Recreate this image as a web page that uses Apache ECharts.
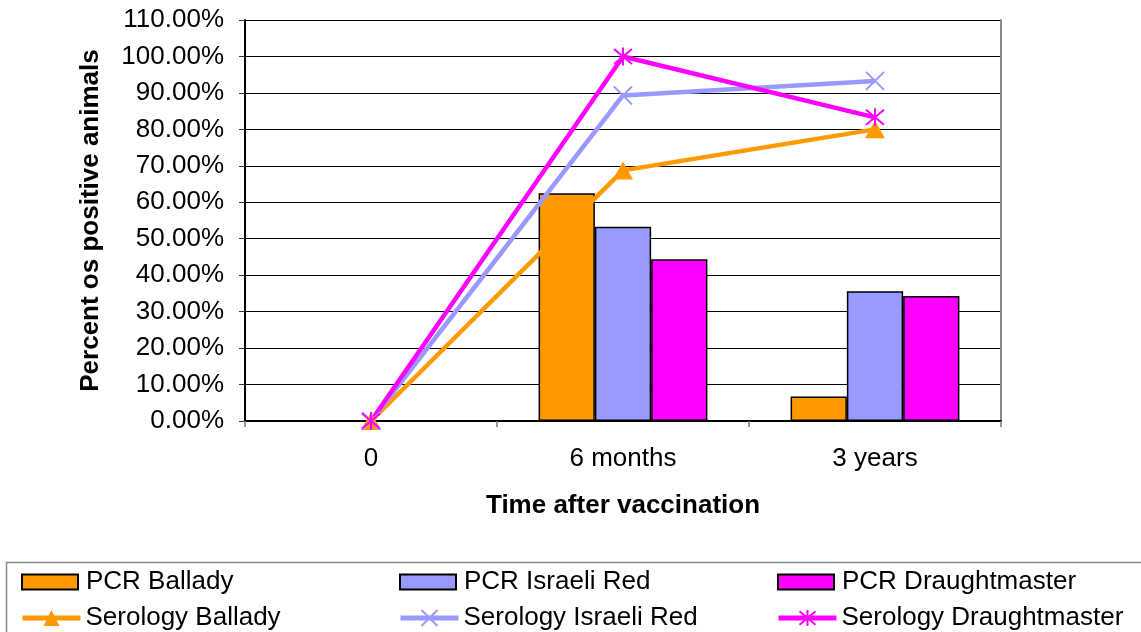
<!DOCTYPE html>
<html>
<head>
<meta charset="utf-8">
<script src="https://cdn.jsdelivr.net/npm/echarts@6/dist/echarts.min.js"></script>
<style>
  html, body { margin: 0; padding: 0; background: #fff; }
  #chart { width: 1141px; height: 632px; }
</style>
</head>
<body>
<div id="chart"></div>
<script>
// Time points after vaccination
const categories = ['0', '6 months', '3 years'];

// PCR results (percent of positive animals)
const pcrBallady = [0, 62.5, 6.7];
const pcrIsraeliRed = [0, 53.3, 35.6];
const pcrDraughtmaster = [0, 44.4, 34.3];

// Serology results (percent of positive animals)
const serBallady = [0, 68.75, 80];
const serIsraeliRed = [0, 89.3, 93.3];
const serDraughtmaster = [0, 100, 83.3];

// Y axis range and step (percent)
const yMin = 0, yMax = 110, yStep = 10;

const ORANGE = '#FF9900', BLUE = '#9999FF', MAGENTA = '#FF00FF';
const FONT = "'Liberation Sans', Arial, sans-serif";

const crossPath = 'path://M0,0L10,10M0,10L10,0';
const starPath = 'path://M0,0L10,10M0,10L10,0M5,-1L5,11';

function barSeries(name, data, color) {
  return {
    name, type: 'bar', data,
    barGap: '0%', barCategoryGap: '33%',
    itemStyle: { color, borderColor: '#000', borderWidth: 1.5 }
  };
}

function lineSeries(name, data, color, symbol, size, stroked) {
  return {
    name, type: 'line', data, symbol, symbolSize: size,
    lineStyle: { color, width: 4.5 },
    itemStyle: stroked
      ? { color: 'rgba(0,0,0,0)', borderColor: color, borderWidth: 2 }
      : { color, borderWidth: 0 },
    z: 3
  };
}

// one legend entry per cell of the 3 x 2 key
function barLegend(name, left) {
  return {
    left, top: 564, height: 40, itemWidth: 56, itemHeight: 15,
    selectedMode: false,
    textStyle: { fontFamily: FONT, fontSize: 26, color: '#000', padding: [0, 0, 0, 3] },
    data: [{ name, icon: 'rect' }]
  };
}
function lineLegend(name, left) {
  return {
    left, top: 600, height: 40, itemWidth: 58, itemHeight: 20,
    selectedMode: false,
    textStyle: { fontFamily: FONT, fontSize: 26, color: '#000', padding: 0 },
    lineStyle: { width: 5 },
    data: [name]
  };
}

const chart = echarts.init(document.getElementById('chart'), null, { renderer: 'canvas' });
chart.setOption({
  backgroundColor: '#fff',
  animation: false,
  textStyle: { fontFamily: FONT },
  grid: { left: 245, right: 140, top: 20, bottom: 211, show: false },
  legend: [
    barLegend('PCR Ballady', 16),
    barLegend('PCR Israeli Red', 394),
    barLegend('PCR Draughtmaster', 772),
    lineLegend('Serology Ballady', 15),
    lineLegend('Serology Israeli Red', 393),
    lineLegend('Serology Draughtmaster', 771)
  ],
  xAxis: {
    type: 'category', data: categories,
    axisLine: { show: true, lineStyle: { color: '#000', width: 2 } },
    axisTick: { show: true, length: 6, interval: 0, lineStyle: { color: '#777', width: 1.5 } },
    axisLabel: { fontFamily: FONT, fontSize: 26, color: '#000', margin: 25 },
    name: 'Time after vaccination', nameLocation: 'middle', nameGap: 72,
    nameTextStyle: { fontFamily: FONT, fontSize: 26, fontWeight: 'bold', color: '#000' }
  },
  yAxis: [{
    type: 'value', min: yMin, max: yMax, interval: yStep,
    axisLine: { show: true, lineStyle: { color: '#000', width: 2 } },
    axisTick: { show: true, length: 6, lineStyle: { color: '#333', width: 1 } },
    axisLabel: { fontFamily: FONT, fontSize: 26, color: '#000', margin: 21,
      formatter: v => v.toFixed(2) + '%' },
    splitLine: { show: true, lineStyle: { color: '#000', width: 1 } },
    name: 'Percent os positive animals', nameLocation: 'middle', nameRotate: 90, nameGap: 141,
    nameTextStyle: { fontFamily: FONT, fontSize: 26, fontWeight: 'bold', color: '#000' }
  }, {
    type: 'value', position: 'right', min: 0, max: 1,
    axisLine: { show: true, lineStyle: { color: '#888', width: 2 } },
    axisTick: { show: false }, axisLabel: { show: false }, splitLine: { show: false }
  }],
  series: [
    barSeries('PCR Ballady', pcrBallady, ORANGE),
    barSeries('PCR Israeli Red', pcrIsraeliRed, BLUE),
    barSeries('PCR Draughtmaster', pcrDraughtmaster, MAGENTA),
    lineSeries('Serology Ballady', serBallady, ORANGE, 'triangle', [20, 18], false),
    lineSeries('Serology Israeli Red', serIsraeliRed, BLUE, crossPath, 18, true),
    lineSeries('Serology Draughtmaster', serDraughtmaster, MAGENTA, starPath, 18, true)
  ],
  graphic: [{
    type: 'rect', left: 4, top: 560, silent: true,
    shape: { width: 1160, height: 100 },
    style: { fill: 'none', stroke: '#888', lineWidth: 1.5 }
  }]
});
</script>
</body>
</html>
